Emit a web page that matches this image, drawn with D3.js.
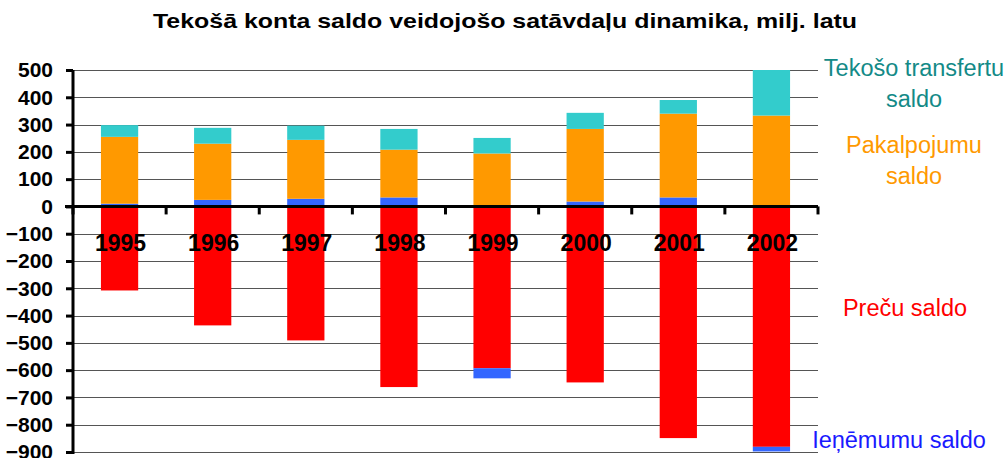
<!DOCTYPE html>
<html>
<head>
<meta charset="utf-8">
<script src="https://cdn.jsdelivr.net/npm/d3@7"></script>
<style>
  body { margin: 0; background: #fff; }
  svg { font-family: Arial, 'Liberation Sans', sans-serif; }
  .grid line { stroke: #555; stroke-width: 1; shape-rendering: crispEdges; }
  .ylab { font-weight: bold; font-size: 21px; }
  .year { font-weight: bold; font-size: 23px; }
  .legend { font-size: 23.5px; }
</style>
</head>
<body>
<svg id="chart" width="1006" height="458"></svg>
<script>
// data, milj. latu
var years = ['1995', '1996', '1997', '1998', '1999', '2000', '2001', '2002']
var goods = [-308, -436, -491, -662, -593, -645, -849, -881]      // Preču saldo
var income = [10, 24, 28, 33, -37, 18, 33, -17]                    // Ieņēmumu saldo
var services = [245, 206, 216, 175, 194, 266, 307, 333]           // Pakalpojumu saldo
var transfers = [43, 58, 52, 76, 57, 59, 50, 167]                 // Tekošo transfertu saldo
var yTicks = [500, 400, 300, 200, 100, 0, -100, -200, -300, -400, -500, -600, -700, -800, -900]

var keys = ['goods', 'income', 'services', 'transfers']
var colors = { goods: '#ff0000', income: '#3366ff', services: '#ff9900', transfers: '#33cccc' }

var rows = years.map((y, i) => ({
  year: y, goods: goods[i], income: income[i], services: services[i], transfers: transfers[i]
}))

var svg = d3.select('#chart')
var margin = { top: 70, right: 188, bottom: 6, left: 73 }
var width = 1006 - margin.left - margin.right
var height = 458 - margin.top - margin.bottom

var g = svg.append('g').attr('transform', 'translate(' + margin.left + ',' + margin.top + ')')

var x = d3.scaleBand().domain(years).range([0, width]).paddingInner(0.6).paddingOuter(0.3)
var y = d3.scaleLinear().domain([-900, 500]).range([height, 0])

// title
svg.append('text')
    .attr('x', 505).attr('y', 28)
    .attr('text-anchor', 'middle')
    .attr('font-weight', 'bold').attr('font-size', 20.5)
    .attr('textLength', 704).attr('lengthAdjust', 'spacingAndGlyphs')
    .text('Tekošā konta saldo veidojošo satāvdaļu dinamika, milj. latu')

// gridlines
g.append('g').attr('class', 'grid')
  .selectAll('line').data(yTicks).enter().append('line')
    .attr('x1', 0).attr('x2', width)
    .attr('y1', d => Math.round(y(d)) + 0.5).attr('y2', d => Math.round(y(d)) + 0.5)

// stacked bars
var stack = d3.stack().keys(keys).offset(d3.stackOffsetDiverging)
var series = stack(rows)

g.selectAll('.series').data(series).enter().append('g')
    .attr('class', 'series')
    .attr('fill', d => colors[d.key])
  .selectAll('rect').data(d => d).enter().append('rect')
    .attr('x', d => x(d.data.year))
    .attr('width', x.bandwidth())
    .attr('y', d => y(Math.max(d[0], d[1])))
    .attr('height', d => Math.abs(y(d[0]) - y(d[1])))

// y axis
var yAxis = g.append('g')
    .call(d3.axisLeft(y).tickValues(yTicks).tickSize(7).tickPadding(13).tickFormat(d3.format('d')))
yAxis.select('.domain').attr('stroke', '#000').attr('stroke-width', 3).attr('d', 'M0,' + y(500) + 'V' + (y(-900) + 2))
yAxis.selectAll('.tick line').attr('stroke', '#000').attr('stroke-width', 3)
yAxis.selectAll('.tick text').attr('class', 'ylab').attr('fill', '#000')

// zero axis with category boundary ticks
var step = x.step()
var bounds = d3.range(years.length + 1).map(i => x.range()[0] + i * step)
g.append('line')
    .attr('x1', -8).attr('x2', width)
    .attr('y1', y(0)).attr('y2', y(0))
    .attr('stroke', '#000').attr('stroke-width', 3)
g.selectAll('.xtick').data(bounds).enter().append('line')
    .attr('class', 'xtick')
    .attr('x1', d => d).attr('x2', d => d)
    .attr('y1', y(0)).attr('y2', y(0) + 8)
    .attr('stroke', '#000').attr('stroke-width', 3)

// year labels sit over the bars, below the zero line
g.selectAll('.year').data(years).enter().append('text')
    .attr('class', 'year')
    .attr('x', d => x(d) + x.bandwidth() / 2 + 1)
    .attr('y', y(0) + 45)
    .attr('text-anchor', 'middle')
    .text(d => d)

// series labels on the right
var legend = [
  { lines: ['Tekošo transfertu', 'saldo'], color: '#138a87', cx: 914, y0: 76 },
  { lines: ['Pakalpojumu', 'saldo'], color: '#ff9900', cx: 914, y0: 153 },
  { lines: ['Preču saldo'], color: '#ff0000', cx: 905, y0: 316 },
  { lines: ['Ieņēmumu saldo'], color: '#1a1aff', cx: 899, y0: 448 }
]
legend.forEach(l => {
  var t = svg.append('text').attr('class', 'legend').attr('fill', l.color).attr('text-anchor', 'middle')
  l.lines.forEach((s, i) => {
    t.append('tspan').attr('x', l.cx).attr('y', l.y0 + i * 31).text(s)
  })
})
</script>
</body>
</html>
